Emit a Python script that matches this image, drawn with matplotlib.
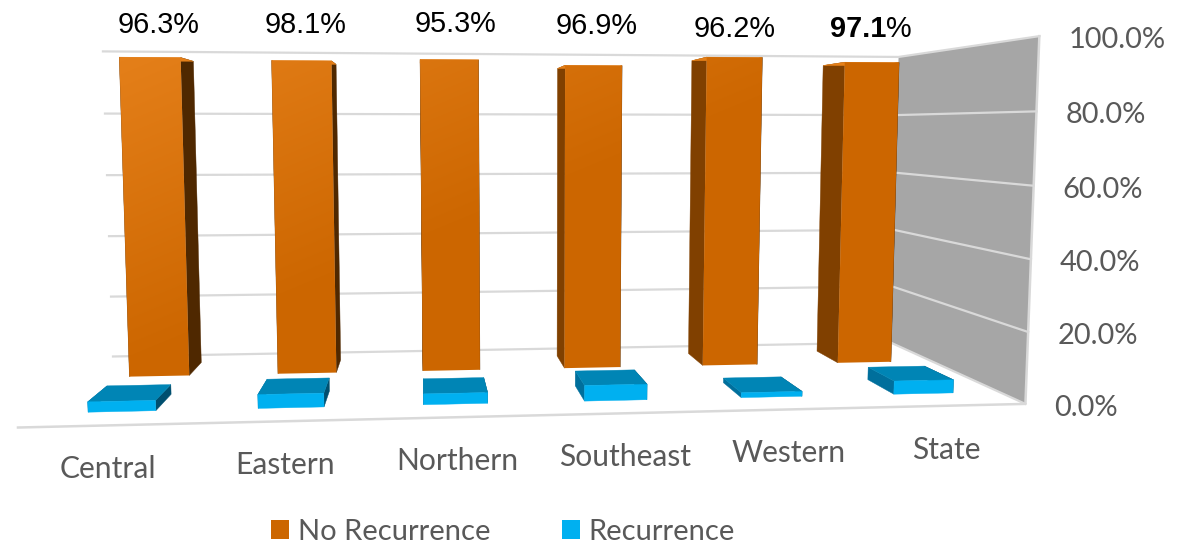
#!/usr/bin/env python3
"""3D style column chart of recurrence by region, drawn with a small perspective camera."""

import numpy as np
import matplotlib
matplotlib.use('Agg')
import matplotlib.pyplot as plt
from matplotlib.patches import Patch, Polygon

regions = ['Central', 'Eastern', 'Northern', 'Southeast', 'Western', 'State']
no_recurrence_labels = [96.3, 98.1, 95.3, 96.9, 96.2, 97.1]
# column heights as they read against the gridlines, not quite what the labels say
no_recurrence = [96.3, 95.6, 96.2, 94.7, 97.5, 96.2]
recurrence = [2.8, 3.8, 3.0, 4.4, 1.4, 3.8]
axis_ticks = [0, 20, 40, 60, 80, 100]

# camera calibration: (category, value, depth) -> pixel
camera_points = [
    (0, 0, 0, 18, 428), (6, 0, 0, 1025, 403), (6, 20, 0, 1028, 332),
    (6, 40, 0, 1031, 260), (6, 60, 0, 1034, 186), (6, 80, 0, 1037, 111),
    (6, 100, 0, 1039, 36), (6, 0, 1, 891, 343), (6, 20, 1, 892, 287),
    (6, 40, 1, 894, 229), (6, 60, 1, 896, 173), (6, 80, 1, 897, 115),
    (6, 100, 1, 898, 57), (0, 0, 1, 113, 356), (0, 20, 1, 111, 297),
    (0, 40, 1, 109, 236), (0, 60, 1, 107, 175), (0, 80, 1, 105, 113),
    (0, 100, 1, 103, 52),
]

ORANGE_WIDTH = 0.40
BLUE_WIDTH = 0.395
ORANGE_CENTER = 0.495
BLUE_CENTER = 0.493
ORANGE_DEPTH = (0.645, 0.86)
BLUE_DEPTH = (0.16, 0.37)
GRID = '#D9D9D9'
WALL = '#A6A6A6'
TEXT = '#595959'


def fit_camera(points):
    rows = []
    for u, v, w, x, y in points:
        p = [u, v / 20, w, 1]
        rows.append(p + [0, 0, 0, 0] + [-x * c for c in p])
        rows.append([0, 0, 0, 0] + p + [-y * c for c in p])
    return np.linalg.svd(np.array(rows, dtype=float))[2][-1].reshape(3, 4)


CAMERA = fit_camera(camera_points)


def project(u, v, w):
    x, y, s = CAMERA @ np.array([u, v / 20, w, 1.0])
    return x / s, y / s


def draw_face(ax, corners, color, zorder):
    ax.add_patch(Polygon([project(*c) for c in corners], closed=True,
                         facecolor=color, edgecolor=color, linewidth=0.3, zorder=zorder))


def draw_bar(ax, u, value, width, depth, colors, zorder):
    u0, u1 = u - width / 2, u + width / 2
    w0, w1 = depth
    draw_face(ax, [(u0, 0, w0), (u0, 0, w1), (u0, value, w1), (u0, value, w0)], colors['left'], zorder)
    draw_face(ax, [(u1, 0, w0), (u1, 0, w1), (u1, value, w1), (u1, value, w0)], colors['right'], zorder)
    draw_face(ax, [(u0, value, w0), (u1, value, w0), (u1, value, w1), (u0, value, w1)], colors['top'], zorder)
    front = [project(u0, 0, w0), project(u1, 0, w0), project(u1, value, w0), project(u0, value, w0)]
    if colors['front'] is not None:
        ax.add_patch(Polygon(front, closed=True, facecolor=colors['front'],
                             edgecolor=colors['front'], linewidth=0.3, zorder=zorder))
    else:
        # lit from the upper left, fades to the flat orange
        clip = Polygon(front, closed=True, facecolor='none', edgecolor='none', transform=ax.transData)
        ax.add_patch(clip)
        im = ax.imshow(orange_shade, extent=(0, 1193, 545, 0), zorder=zorder, interpolation='bilinear')
        im.set_clip_path(clip)


xx, yy = np.meshgrid(np.arange(1193) + 0.5, np.arange(545) + 0.5)
light = np.clip(1 - (xx - 125) / 750 - (yy - 60) / 310, 0, 1)[..., None]
orange_shade = (np.array([204, 102, 0]) + light * np.array([24, 25, 25])) / 255

fig = plt.figure(figsize=(11.93, 5.45), dpi=100)
ax = fig.add_axes([0, 0, 1, 1])

# side wall and gridlines
ax.add_patch(Polygon([project(6, 0, 0), project(6, 0, 1), project(6, 100, 1), project(6, 100, 0)],
                     closed=True, facecolor=WALL, edgecolor='none', zorder=1))
for t in axis_ticks:
    back = np.array([project(0, t, 1), project(6, t, 1), project(6, t, 0)])
    ax.plot(back[:, 0], back[:, 1], color=GRID, lw=1.6, zorder=2, solid_joinstyle='miter')
edges = np.array([project(0, 0, 0), project(6, 0, 0), project(6, 100, 0)])
ax.plot(edges[:, 0], edges[:, 1], color=GRID, lw=1.8, zorder=2)

orange_colors = {'left': '#804000', 'right': '#4F2800', 'top': '#E58019', 'front': None}
blue_colors = {'left': '#006F9C', 'right': '#004F6F', 'top': '#0085B5', 'front': '#00B0F0'}
for i in range(len(regions)):
    draw_bar(ax, i + ORANGE_CENTER, no_recurrence[i], ORANGE_WIDTH, ORANGE_DEPTH, orange_colors, 3 + i)
for i in range(len(regions)):
    draw_bar(ax, i + BLUE_CENTER, recurrence[i], BLUE_WIDTH, BLUE_DEPTH, blue_colors, 10 + i)

# data labels
label_x = [159, 306, 455, 597, 735]
label_y = [25, 25, 24, 26, 29]
for x, y, value in zip(label_x, label_y, no_recurrence_labels):
    ax.text(x, y, f'{value:.1f}%', ha='center', va='center', fontsize=20.8,
            family='Liberation Sans', color='black', zorder=20)
ax.text(886, 29, f'{no_recurrence_labels[5]:.1f}', ha='right', va='center', fontsize=20.8,
        family='Liberation Sans', fontweight='bold', color='black', zorder=20)
ax.text(886, 29, '%', ha='left', va='center', fontsize=20.8,
        family='Liberation Sans', color='black', zorder=20)

# axis labels
for t in axis_ticks:
    x, y = project(6, t, 0)
    ax.text(x + 29, y + 4, f'{t:.1f}%', ha='left', va='center', fontsize=20.9, family='Lato', color=TEXT)
for i, name in enumerate(regions):
    x, y = project(i + 0.5, 0, 0)
    ax.text(x - 1, y + 44, name, ha='center', va='center', fontsize=21.6, family='Lato', color=TEXT)

handles = [Patch(facecolor='#CC6600', label='No Recurrence'), Patch(facecolor='#00B0F0', label='Recurrence')]
ax.legend(handles=handles, ncol=2, frameon=False, loc='center', bbox_to_anchor=(503, 532),
          bbox_transform=ax.transData, prop={'family': 'Lato', 'size': 21}, labelcolor=TEXT,
          handlelength=0.62, handleheight=0.62, handletextpad=0.3, columnspacing=2.45,
          borderpad=0, borderaxespad=0)

ax.set_xlim(0, 1193)
ax.set_ylim(545, 0)
ax.set_aspect('auto')
ax.axis('off')

fig.savefig('out.png', dpi=100)
